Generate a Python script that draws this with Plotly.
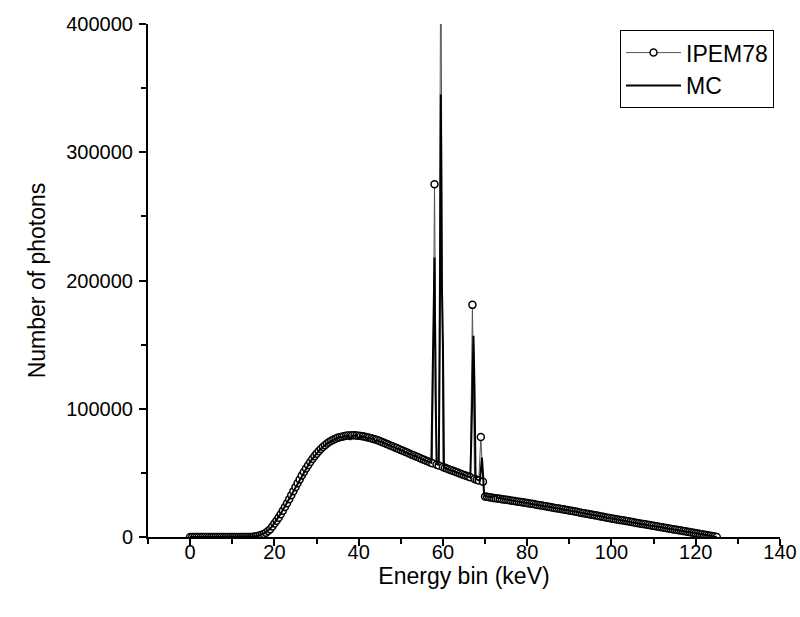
import numpy as np
import plotly.graph_objects as go

# ---------------- data ----------------
# IPEM78 spectrum, 0.5 keV bins from 0 to 125 keV
ipem_energy = np.arange(0, 125.5, 0.5)
ipem_counts = (
    [0] * 30
    + [200, 400, 700, 1100, 1700, 2400, 3400, 4600, 6100, 8200,
       10500, 12700, 15100, 17700, 20500, 23400, 26400, 29500, 32600, 35700,
       38800, 41900, 44900, 47900, 50700, 53400, 56000, 58500, 60800, 63000,
       65000, 66900, 68600, 70200, 71600, 72900, 74000, 75000, 75900, 76700,
       77300, 77800, 78200, 78600, 78900, 79100, 79200, 79300, 79300, 79200,
       79000, 78800, 78500, 78200, 77800, 77400, 77000, 76500, 76000, 75400]
    + [74800]
    + [74100, 73500, 72800, 72100, 71400, 70700, 70000, 69300, 68600, 67900,
       67200, 66500, 65800, 65100, 64400, 63700, 63000, 62300, 61600, 60900,
       60200, 59500, 58800, 58100, 57500]
    + [275000, 56300, 55700, 480000, 54500, 53900, 53300, 52700, 52000, 51400,
       50800, 50200, 49600, 49000, 48300, 47700, 47100, 46500, 181000, 45300,
       44700, 44100, 78000, 43000]
    + [31500, 31300, 31000, 30800, 30500, 30200, 30000, 29800, 29500, 29200,
       29000, 28800, 28500, 28200, 28000, 27700, 27500, 27300, 27000, 26700, 26500]
    + [26200, 25900, 25700, 25400, 25000, 24800, 24500, 24200, 23900, 23600,
       23300, 23000, 22700, 22400, 22200, 21900, 21600, 21300, 21000, 20700]
    + [20400, 20100, 19800, 19500, 19100, 18800, 18500, 18200, 17900, 17600,
       17300, 17000, 16700, 16400, 16000, 15700, 15400, 15100, 14800, 14500]
    + [14200, 13900, 13600, 13300, 13000, 12800, 12500, 12200, 11900, 11600,
       11300, 11000, 10700, 10400, 10100, 9900, 9600, 9300, 9000, 8700]
    + [8400, 8100, 7800, 7600, 7300, 7000, 6700, 6400, 6100, 5900,
       5600, 5300, 5000, 4700, 4400, 4100, 3900, 3600, 3300, 3000]
    + [2700, 2400, 2100, 1800, 1500, 1200, 900, 600, 300, 0]
)

# Monte Carlo spectrum: 0.5 keV bins below 56 keV, 0.25 keV bins in the
# characteristic-line region, 0.5 keV bins above 71 keV
mc_energy_low = np.arange(0, 56, 0.5)
mc_counts_low = (
    [0] * 30
    + [300, 500, 800, 1300, 1900, 2700, 3700, 5000, 6600, 8500,
       10800, 13100, 15500, 18200, 21000, 23900, 26900, 29800, 32900, 36100,
       39100, 42100, 45200, 48000, 50900, 53600, 56100, 58700, 60900, 63200,
       65100, 67000, 68800, 70300, 71500, 72900, 73800, 75100, 75700, 76600,
       77000, 77900, 77500, 78700, 78400, 79300, 75800, 79100, 78900, 79400,
       76200, 78900, 78100, 78400, 75900, 77600, 76600, 76800, 74600, 75500,
       74300, 74300, 73100, 72900, 71700, 71600, 70300, 70100, 68900, 68700,
       67500, 67300, 66100, 65900, 64700, 64600, 63400, 63100, 62100, 61700,
       60600, 60300]
)
mc_energy_mid = np.arange(56, 71, 0.25)
mc_counts_mid = [
    59600, 59200, 58900, 58400,
    58200, 57800, 112000, 165000,
    218000, 113000, 57000, 56500,
    56300, 151000, 345000, 198000,
    150000, 54200, 53800, 53500,
    53000, 52900, 52400, 52200,
    51800, 51700, 51200, 50900,
    50700, 50300, 50100, 49700,
    49500, 49100, 48900, 48500,
    48300, 48000, 47600, 47400,
    47000, 46800, 46400, 78000,
    115000, 157000, 115000, 45300,
    44900, 44500, 44300, 43900,
    52000, 62000, 50000, 34000,
    32000, 31700, 31500, 31400,
]
mc_energy_high = np.arange(71, 125.5, 0.5)
mc_counts_high = (
    [31300, 31100, 31600, 32200, 30500, 30200, 29900, 29600, 29200, 29100,
     28600, 28400, 28000, 27900, 27300, 27200, 26700, 26500, 26300]
    + [26000, 25900, 25500, 25300, 24900, 24800, 24300, 24200, 23800, 23700,
       23200, 23100, 22600, 22500, 22000, 21900, 21400, 21300, 20900, 20600]
    + [20500, 20000, 19900, 19400, 19300, 18800, 18600, 18200, 18000, 17500,
       17400, 16900, 16700, 16300, 16100, 15600, 15500, 15000, 14800, 14400]
    + [14300, 13800, 13700, 13200, 13000, 12600, 12400, 11900, 11800, 11300,
       11200, 10700, 10500, 10100, 9900, 9500, 9300, 8800, 8700, 8600]
    + [8300, 7900, 7800, 7300, 7200, 6700, 6600, 6200, 6000, 5600,
       5400, 5000, 4800, 4400, 4300, 3800, 3700, 3300, 3100, 2900]
    + [2600, 2300, 2100, 1700, 1500, 1200, 900, 600, 300, 0]
)

x_ticks = [0, 20, 40, 60, 80, 100, 120, 140]
y_ticks = [0, 100000, 200000, 300000, 400000]

assert len(ipem_counts) == len(ipem_energy)
assert len(mc_counts_low) == len(mc_energy_low)
assert len(mc_counts_mid) == len(mc_energy_mid)
assert len(mc_counts_high) == len(mc_energy_high)

mc_energy = np.concatenate([mc_energy_low, mc_energy_mid, mc_energy_high])
mc_counts = mc_counts_low + mc_counts_mid + mc_counts_high

FONT = "Liberation Sans, Arial, Helvetica, sans-serif"

fig = go.Figure()
fig.add_trace(go.Scatter(
    x=ipem_energy, y=ipem_counts, name="IPEM78", mode="lines+markers",
    line=dict(color="#555555", width=1),
    marker=dict(symbol="circle", size=7, color="white",
                line=dict(color="black", width=1.5)),
))
fig.add_trace(go.Scatter(
    x=mc_energy, y=mc_counts, name="MC", mode="lines",
    line=dict(color="black", width=2),
))

axis_common = dict(
    showline=True, linecolor="black", linewidth=2, mirror=False,
    ticks="outside", ticklen=7, tickwidth=2, tickcolor="black",
    showgrid=False, zeroline=False, ticklabeloverflow="allow",
    automargin=False,
    tickfont=dict(family=FONT, size=20, color="black"),
)

fig.update_xaxes(
    range=[-10, 140], tickvals=x_ticks, ticktext=[str(v) for v in x_ticks],
    minor=dict(dtick=10, tick0=0, ticks="outside", ticklen=5,
               tickwidth=2, tickcolor="black"),
    title=dict(text="Energy bin (keV)", font=dict(family=FONT, size=23, color="black"),
               standoff=6),
    ticklabelstandoff=-11,
    **axis_common,
)
fig.update_yaxes(
    range=[0, 400000], tickvals=y_ticks, ticktext=[str(v) for v in y_ticks],
    minor=dict(dtick=50000, tick0=0, ticks="outside", ticklen=5,
               tickwidth=2, tickcolor="black"),
    title=dict(text="Number of photons", font=dict(family=FONT, size=23, color="black"),
               standoff=14),
    ticklabelstandoff=2,
    **axis_common,
)

fig.update_layout(
    width=800, height=617,
    margin=dict(l=148, r=20, t=24, b=80, pad=0),
    plot_bgcolor="white", paper_bgcolor="white",
    font=dict(family=FONT, size=20, color="black"),
    showlegend=True,
    legend=dict(
        x=0.9905, y=0.988, xanchor="right", yanchor="top",
        bgcolor="white", bordercolor="black", borderwidth=1,
        font=dict(family=FONT, size=23, color="black"),
        itemwidth=55, tracegroupgap=0,
    ),
)

fig.write_html("out.html")
